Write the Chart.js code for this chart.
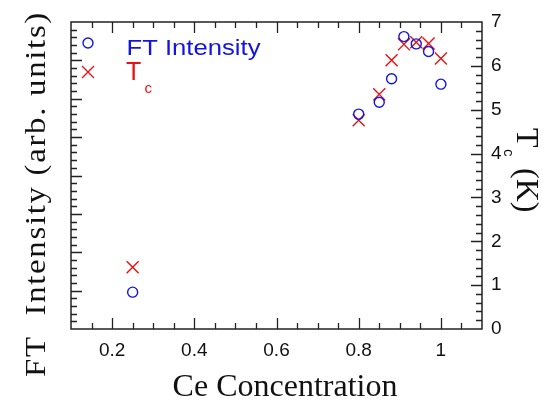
<!DOCTYPE html>
<html><head><meta charset="utf-8">
<script src="https://cdn.jsdelivr.net/npm/chart.js@4/dist/chart.umd.min.js"></script>
<style>html,body{margin:0;padding:0;background:#fff;}#c{display:block;}</style>
</head><body>
<canvas id="c" width="550" height="403"></canvas>
<script>
// ---- data ----
const ceConc = [0.25, 0.8, 0.85, 0.88, 0.91, 0.94, 0.97, 1.0];
const ftIntensity = [0.96, 5.60, 5.91, 6.52, 7.62, 7.43, 7.23, 6.38]; // arb. units (left axis)
const tcValues = [1.41, 4.76, 5.35, 6.13, 6.49, 6.54, 6.51, 6.17];    // K (right axis)
const xTickLabels = [0.2, 0.4, 0.6, 0.8, 1];
const tcTickLabels = [0, 1, 2, 3, 4, 5, 6, 7];

const BLUE = 'rgb(20,20,225)';
const RED = 'rgb(228,20,20)';
const AXIS = '#222';

function stretchedText(ctx, text, x, y, width) {
  const w = ctx.measureText(text).width;
  ctx.save();
  ctx.translate(x, y);
  ctx.scale(width / w, 1);
  ctx.fillText(text, 0, 0);
  ctx.restore();
}

const decor = {
  id: 'decor',
  afterDraw(chart) {
    const ctx = chart.ctx;
    const a = chart.chartArea;
    const sx = chart.scales.x, yl = chart.scales.yL, yr = chart.scales.yR;
    ctx.save();
    ctx.strokeStyle = AXIS;
    ctx.lineWidth = 1.5;
    ctx.strokeRect(a.left, a.top, a.right - a.left, a.bottom - a.top);
    ctx.lineWidth = 1.3;
    ctx.beginPath();
    // x ticks bottom & top
    for (let k = 3; k <= 21; k++) {
      const px = Math.round(sx.getPixelForValue(k * 0.05)) + 0.5;
      const len = (k % 4 === 0) ? 11 : 6;
      ctx.moveTo(px, a.bottom); ctx.lineTo(px, a.bottom - len);
      ctx.moveTo(px, a.top); ctx.lineTo(px, a.top + len);
    }
    // left ticks
    for (let k = 1; k < 40; k++) {
      const py = Math.round(yl.getPixelForValue(k * 0.2)) + 0.5;
      const len = (k % 5 === 0) ? 11 : 6;
      ctx.moveTo(a.left, py); ctx.lineTo(a.left + len, py);
    }
    // right ticks
    for (let k = 1; k < 35; k++) {
      const py = Math.round(yr.getPixelForValue(k * 0.2)) + 0.5;
      const len = (k % 5 === 0) ? 11 : 6;
      ctx.moveTo(a.right, py); ctx.lineTo(a.right - len, py);
    }
    ctx.stroke();

    // axis titles
    ctx.fillStyle = '#111';
    ctx.textBaseline = 'alphabetic';
    ctx.font = '32px "Liberation Serif"';
    ctx.textAlign = 'center';
    ctx.fillText('Ce Concentration', 285, 396);

    // left title (rotated)
    ctx.save();
    ctx.translate(45, 194);
    ctx.rotate(-Math.PI / 2);
    ctx.font = '29px "Liberation Serif"';
    ctx.textAlign = 'left';
    try { ctx.letterSpacing = '1.5px'; } catch (e) {}
    const lt = 'FT  Intensity (arb. units)';
    stretchedText(ctx, lt, -183, 0, 366);
    try { ctx.letterSpacing = '0px'; } catch (e) {}
    ctx.restore();

    // right title T_c (K)
    ctx.save();
    ctx.translate(517, 0);
    ctx.rotate(Math.PI / 2);
    ctx.textAlign = 'left';
    ctx.font = '32px "Liberation Serif"';
    ctx.fillText('T', 128, 0);
    ctx.fillText('(K)', 168, 0);
    ctx.font = '15px "Liberation Sans"';
    ctx.fillText('c', 149, 13);
    ctx.restore();

    // legend
    ctx.lineWidth = 1.4;
    ctx.strokeStyle = BLUE;
    ctx.beginPath(); ctx.arc(88, 43, 5, 0, Math.PI * 2); ctx.stroke();
    ctx.strokeStyle = RED;
    ctx.beginPath();
    ctx.moveTo(82, 66); ctx.lineTo(94, 78);
    ctx.moveTo(94, 66); ctx.lineTo(82, 78);
    ctx.stroke();
    ctx.textAlign = 'left';
    ctx.fillStyle = BLUE;
    ctx.font = '22px "Liberation Sans"';
    stretchedText(ctx, 'FT Intensity', 126.5, 54.5, 134);
    ctx.fillStyle = RED;
    ctx.font = '25px "Liberation Sans"';
    ctx.fillText('T', 126, 80);
    ctx.font = '15px "Liberation Sans"';
    ctx.fillText('c', 144.5, 93);
    ctx.restore();
  }
};

new Chart(document.getElementById('c'), {
  type: 'scatter',
  data: {
    datasets: [
      {
        label: 'FT Intensity',
        data: ceConc.map((x, i) => ({ x: x, y: ftIntensity[i] })),
        yAxisID: 'yL',
        pointStyle: 'circle',
        pointRadius: 5,
        pointHoverRadius: 5,
        borderColor: BLUE,
        backgroundColor: 'rgba(0,0,0,0)',
        borderWidth: 1.4,
        showLine: false
      },
      {
        label: 'Tc',
        data: ceConc.map((x, i) => ({ x: x, y: tcValues[i] })),
        yAxisID: 'yR',
        pointStyle: 'crossRot',
        pointRadius: 8.5,
        pointHoverRadius: 8.5,
        borderColor: RED,
        backgroundColor: RED,
        borderWidth: 1.4,
        showLine: false
      }
    ]
  },
  options: {
    responsive: false,
    animation: false,
    events: [],
    layout: { padding: { top: 22, left: 0, right: 0, bottom: 0 } },
    plugins: { legend: { display: false }, tooltip: { enabled: false } },
    scales: {
      x: {
        type: 'linear', position: 'bottom', min: 0.1, max: 1.1,
        grid: { display: false, drawTicks: false },
        border: { display: false },
        afterBuildTicks: (s) => { s.ticks = xTickLabels.map(v => ({ value: v })); },
        ticks: {
          color: '#111', padding: 10, maxRotation: 0, autoSkip: false,
          font: { family: '"Liberation Sans"', size: 19 },
          callback: (v) => String(v)
        },
        afterFit: (s) => { s.height = 74; }
      },
      yL: {
        type: 'linear', position: 'left', min: 0, max: 8,
        grid: { display: false, drawTicks: false },
        border: { display: false },
        ticks: { display: false },
        afterFit: (s) => { s.width = 71; }
      },
      yR: {
        type: 'linear', position: 'right', min: 0, max: 7,
        grid: { display: false, drawTicks: false },
        border: { display: false },
        afterBuildTicks: (s) => { s.ticks = tcTickLabels.map(v => ({ value: v })); },
        ticks: {
          color: '#111', padding: 9,
          font: { family: '"Liberation Sans"', size: 19 }
        },
        afterFit: (s) => { s.width = 68; }
      }
    }
  },
  plugins: [decor]
});
</script>
</body></html>
